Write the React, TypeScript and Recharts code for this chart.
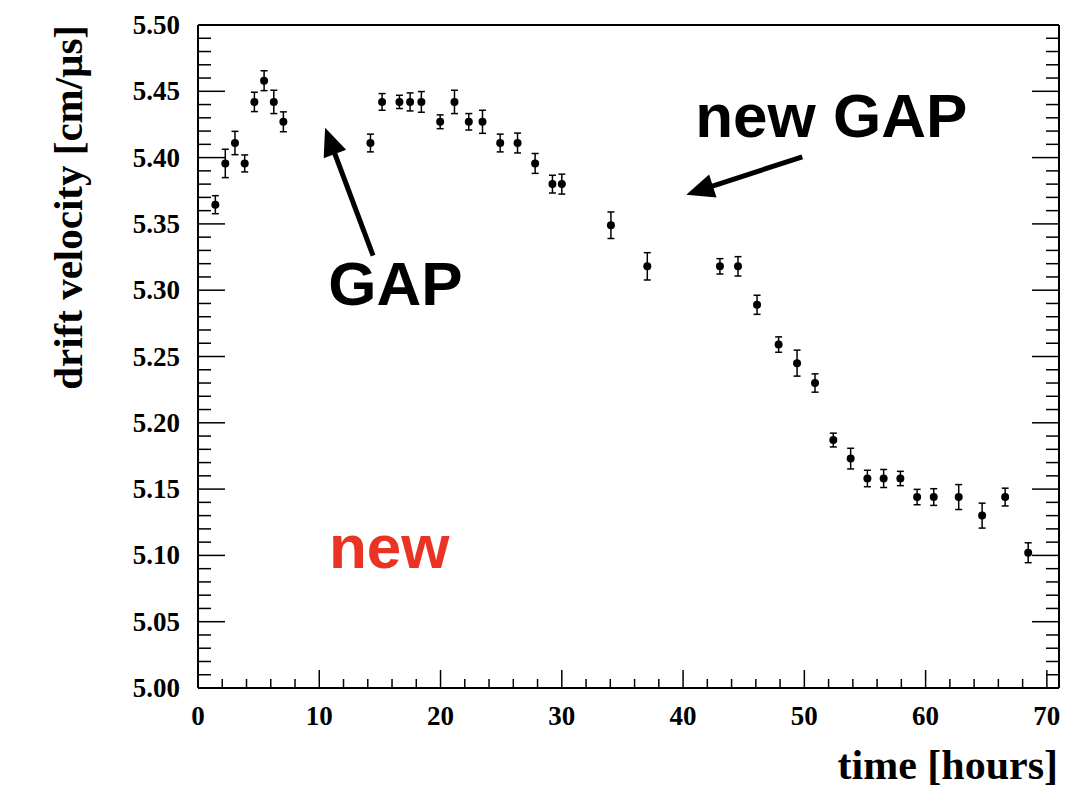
import React from 'react';
import {
  ScatterChart,
  Scatter,
  XAxis,
  YAxis,
  ErrorBar,
  ReferenceLine,
  ReferenceDot,
} from 'recharts';

const times = [
  1.43, 2.25, 3.05, 3.85, 4.65, 5.45, 6.25, 7.04,
  14.22, 15.18, 16.61, 17.49, 18.42, 19.97, 21.15, 22.33, 23.46, 24.92,
  26.35, 27.8, 29.23, 30.0, 34.05, 37.05, 43.04, 44.53,
  46.1, 47.88, 49.4, 50.88, 52.39, 53.82, 55.2, 56.54, 57.92, 59.3, 60.67, 62.73, 64.66, 66.56, 68.46,
];
const velocities = [
  5.3645, 5.3956, 5.411, 5.3956, 5.442, 5.458, 5.442, 5.427,
  5.411, 5.442, 5.442, 5.442, 5.442, 5.427, 5.442, 5.427, 5.427, 5.411,
  5.411, 5.3956, 5.38, 5.38, 5.349, 5.318, 5.318, 5.318,
  5.289, 5.259, 5.245, 5.23, 5.187, 5.173, 5.158, 5.158, 5.158, 5.144, 5.144, 5.144, 5.13, 5.144, 5.102,
];
const errors = [
  0.0068, 0.0107, 0.0088, 0.0064, 0.0073, 0.0075, 0.0088, 0.0075,
  0.0067, 0.0063, 0.005, 0.0068, 0.0078, 0.0052, 0.0088, 0.0062, 0.0087, 0.0067,
  0.0075, 0.0075, 0.0067, 0.0075, 0.01, 0.0103, 0.0058, 0.0073,
  0.0072, 0.0058, 0.0098, 0.0069, 0.0052, 0.0078, 0.0062, 0.0068, 0.0054, 0.0058, 0.0063, 0.0094, 0.0094, 0.0067, 0.0075,
];

const xMajorTicks = [0, 10, 20, 30, 40, 50, 60, 70];
const yMajorTicks = [5.0, 5.05, 5.1, 5.15, 5.2, 5.25, 5.3, 5.35, 5.4, 5.45, 5.5];

// minor ticks: 5 per major step on both axes
const xTicks: number[] = [];
for (let i = 0; i <= 35; i++) xTicks.push(i * 2);
const yTicks: number[] = [];
for (let i = 0; i <= 50; i++) yTicks.push(Number((5 + i * 0.01).toFixed(2)));

const points = times.map((t, i) => ({ t, v: velocities[i], err: errors[i] }));

const SERIF = '"Liberation Serif", "Times New Roman", serif';
const SANS = '"Liberation Sans", Arial, Helvetica, sans-serif';

const isXMajor = (v: number) => xMajorTicks.includes(v);
const isYMajor = (v: number) => yMajorTicks.some((m) => Math.abs(m - v) < 1e-6);

const makeXTick = (side: 'bottom' | 'top') => (props: any) => {
  const { x, y, payload } = props;
  const v = payload.value;
  const major = isXMajor(v);
  const len = major ? 18 : 9;
  const dir = side === 'bottom' ? -1 : 1;
  return (
    <g>
      <line x1={x} y1={y} x2={x} y2={y + dir * len} stroke="#000" strokeWidth={1.5} />
      {side === 'bottom' && major ? (
        <text x={x} y={y + 37} textAnchor="middle" fontFamily={SERIF} fontWeight="bold" fontSize={27} fill="#000">
          {v}
        </text>
      ) : null}
    </g>
  );
};

const makeYTick = (side: 'left' | 'right') => (props: any) => {
  const { x, y, payload } = props;
  const v = payload.value;
  const major = isYMajor(v);
  const len = major ? 27 : 13;
  const dir = side === 'left' ? 1 : -1;
  return (
    <g>
      <line x1={x} y1={y} x2={x + dir * len} y2={y} stroke="#000" strokeWidth={1.5} />
      {side === 'left' && major ? (
        <text x={x - 18} y={y + 9} textAnchor="end" fontFamily={SERIF} fontWeight="bold" fontSize={27} fill="#000">
          {v.toFixed(2)}
        </text>
      ) : null}
    </g>
  );
};

const Arrow = (props: any) => {
  const { x1, y1, x2, y2 } = props;
  const dx = x2 - x1;
  const dy = y2 - y1;
  const l = Math.sqrt(dx * dx + dy * dy);
  const ux = dx / l;
  const uy = dy / l;
  const headLen = 28;
  const headHalf = 12;
  const bx = x2 - ux * headLen;
  const by = y2 - uy * headLen;
  return (
    <g>
      <line x1={x1} y1={y1} x2={bx + ux * 2} y2={by + uy * 2} stroke="#000" strokeWidth={5} />
      <polygon
        points={`${x2},${y2} ${bx - uy * headHalf},${by + ux * headHalf} ${bx + uy * headHalf},${by - ux * headHalf}`}
        fill="#000"
      />
    </g>
  );
};

const annotation = (label: string, color: string) => (props: any) => (
  <text x={props.cx} y={props.cy} fontFamily={SANS} fontWeight="bold" fontSize={62} fill={color}>
    {label}
  </text>
);

const Marker = (props: any) => <circle cx={props.cx} cy={props.cy} r={4} fill="#000" />;

export default function App() {
  return (
    <div style={{ position: 'absolute', left: 0, top: 0, width: 1066, height: 788, background: '#fff' }}>
      <ScatterChart width={1066} height={788} margin={{ top: 15, right: 2, bottom: 60, left: 138 }}>
        <XAxis
          xAxisId="bottom"
          dataKey="t"
          type="number"
          domain={[0, 71]}
          ticks={xTicks}
          interval={0}
          height={40}
          tickSize={0}
          tickMargin={0}
          tickLine={false}
          axisLine={{ stroke: '#000', strokeWidth: 2 }}
          tick={makeXTick('bottom')}
          allowDataOverflow
        />
        <XAxis
          xAxisId="top"
          orientation="top"
          type="number"
          domain={[0, 71]}
          ticks={xTicks}
          interval={0}
          height={10}
          tickSize={0}
          tickMargin={0}
          tickLine={false}
          axisLine={{ stroke: '#000', strokeWidth: 2 }}
          tick={makeXTick('top')}
          allowDataOverflow
        />
        <YAxis
          yAxisId="left"
          dataKey="v"
          type="number"
          domain={[5.0, 5.5]}
          ticks={yTicks}
          interval={0}
          width={60}
          tickSize={0}
          tickMargin={0}
          tickLine={false}
          axisLine={{ stroke: '#000', strokeWidth: 2 }}
          tick={makeYTick('left')}
          allowDataOverflow
        />
        <YAxis
          yAxisId="right"
          orientation="right"
          type="number"
          domain={[5.0, 5.5]}
          ticks={yTicks}
          interval={0}
          width={5}
          tickSize={0}
          tickMargin={0}
          tickLine={false}
          axisLine={{ stroke: '#000', strokeWidth: 2 }}
          tick={makeYTick('right')}
          allowDataOverflow
        />
        <Scatter
          data={points}
          xAxisId="bottom"
          yAxisId="left"
          shape={Marker}
          isAnimationActive={false}
        >
          <ErrorBar dataKey="err" direction="y" width={3.5} stroke="#000" strokeWidth={1.5} isAnimationActive={false} />
        </Scatter>

        <ReferenceLine
          xAxisId="bottom"
          yAxisId="left"
          segment={[{ x: 14.44, y: 5.326 }, { x: 10.48, y: 5.4225 }]}
          shape={Arrow}
          ifOverflow="visible"
        />
        <ReferenceLine
          xAxisId="bottom"
          yAxisId="left"
          segment={[{ x: 49.83, y: 5.4006 }, { x: 40.26, y: 5.372 }]}
          shape={Arrow}
          ifOverflow="visible"
        />
        <ReferenceDot xAxisId="bottom" yAxisId="left" x={41.0} y={5.4157} shape={annotation('new GAP', '#000')} ifOverflow="visible" />
        <ReferenceDot xAxisId="bottom" yAxisId="left" x={10.75} y={5.2889} shape={annotation('GAP', '#000')} ifOverflow="visible" />
        <ReferenceDot xAxisId="bottom" yAxisId="left" x={10.8} y={5.0905} shape={annotation('new', '#EA3323')} ifOverflow="visible" />
      </ScatterChart>
      <svg width={1066} height={788} style={{ position: 'absolute', left: 0, top: 0, pointerEvents: 'none' }}>
        <text
          transform="translate(82,25) rotate(-90)"
          textAnchor="end"
          fontFamily={SERIF}
          fontWeight="bold"
          fontSize={41}
          fill="#000"
        >
          drift velocity [cm/μs]
        </text>
        <text x={1058} y={779} textAnchor="end" fontFamily={SERIF} fontWeight="bold" fontSize={42} fill="#000">
          time [hours]
        </text>
      </svg>
    </div>
  );
}
